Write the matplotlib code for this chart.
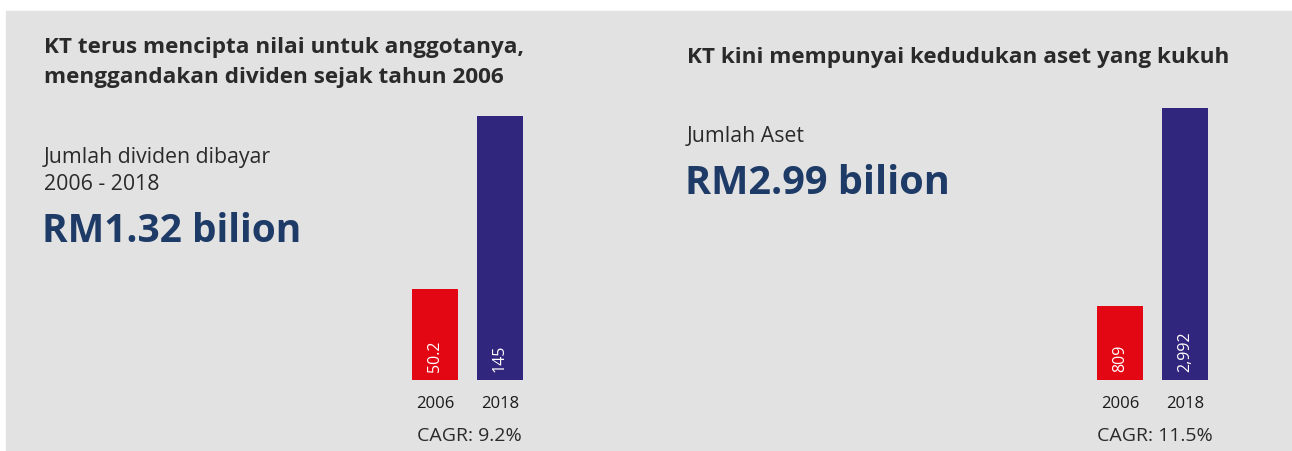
import matplotlib
matplotlib.use("Agg")
import matplotlib.pyplot as plt
from matplotlib.patches import Rectangle

# --- data ---
years = ["2006", "2018"]
dividends = [50.2, 145]            # RM juta
dividend_labels = ["50.2", "145"]
assets = [809, 2992]               # RM juta
asset_labels = ["809", "2,992"]

RED = "#e30613"
BLUE = "#31267d"
NAVY = "#1e3a66"
DARK = "#2a2a2a"
GREY_BG = "#e2e2e2"

W, H = 1292, 452
plt.rcParams["font.family"] = ["Open Sans", "DejaVu Sans"]

fig = plt.figure(figsize=(W / 100, H / 100), dpi=100)
fig.patch.set_facecolor("white")
fig.patches.append(Rectangle((6 / W, 0), 1 - 6 / W, 1 - 12 / H,
                             transform=fig.transFigure, color=GREY_BG, zorder=-5))


def px(x, y):
    return x / W, 1 - y / H


def txt(x, y, s, **kw):
    fig.text(*px(x, y), s, **kw)


# --- texts, left panel ---
txt(44, 47, "KT terus mencipta nilai untuk anggotanya,", fontsize=16.2,
    fontweight="bold", color=DARK, va="center")
txt(44, 77, "menggandakan dividen sejak tahun 2006", fontsize=16.2,
    fontweight="bold", color=DARK, va="center")
txt(44, 158, "Jumlah dividen dibayar", fontsize=15.3,
    color=DARK, va="center")
txt(44, 185, "2006 - 2018", fontsize=15.3,
    color=DARK, va="center")
txt(42, 232, "RM1.32 bilion", fontsize=28, fontweight="bold",
    color=NAVY, va="center")

# --- texts, right panel ---
txt(687, 57, "KT kini mempunyai kedudukan aset yang kukuh", fontsize=16.2,
    fontweight="bold", color=DARK, va="center")
txt(687, 137, "Jumlah Aset", fontsize=15.3,
    color=DARK, va="center")
txt(685, 184, "RM2.99 bilion", fontsize=28.5, fontweight="bold",
    color=NAVY, va="center")


def bar_panel(cx, values, labels, top_px, cagr):
    # axes spans two bar slots of 65 px, bottom at y=381
    left = cx - 32.5
    bottom, top = 381, 100
    ax = fig.add_axes([left / W, 1 - bottom / H, 130 / W, (bottom - top) / H])
    ax.set_facecolor("none")
    bar_h = bottom - top_px
    ymax = values[1] * (bottom - top) / bar_h
    xs = range(len(values))
    ax.bar(xs, values, width=46 / 65, color=[RED, BLUE])
    ax.set_xlim(-0.5, 1.5)
    ax.set_ylim(0, ymax)
    ax.axis("off")
    for i, lab in zip(xs, labels):
        ax.annotate(lab, (i, 0), xytext=(0, 9), textcoords="offset pixels",
                    rotation=90, ha="center", va="bottom", color="white",
                    fontsize=11.5)
        ax.annotate(years[i], (i, 0), xytext=(0, -23), textcoords="offset pixels",
                    ha="center", va="center", color="#1a1a1a", fontsize=12,
                    annotation_clip=False)
    ax.annotate(cagr, (0.5, 0), xytext=(2, -55), textcoords="offset pixels",
                ha="center", va="center", color=DARK, fontsize=14,
                annotation_clip=False)
    return ax


bar_panel(435, dividends, dividend_labels, 117, "CAGR: 9.2%")
bar_panel(1120, assets, asset_labels, 109, "CAGR: 11.5%")

fig.savefig("out.png", dpi=100, facecolor=fig.get_facecolor())
